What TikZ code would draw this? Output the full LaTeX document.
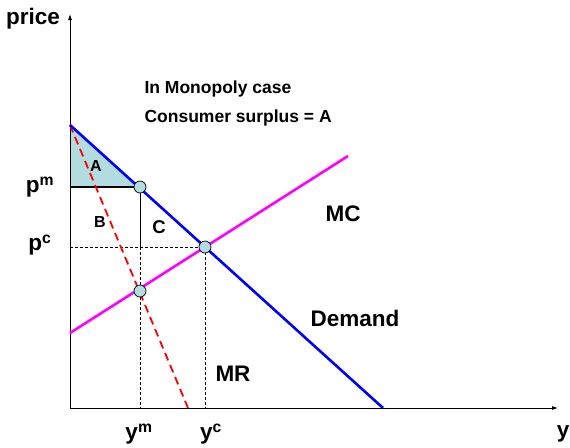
\documentclass[tikz,border=0pt]{standalone}
\usepackage{fontspec}
\setmainfont{Liberation Sans}
\usetikzlibrary{positioning,arrows.meta,calc}

\definecolor{csfill}{HTML}{B2DCDF}
\definecolor{mccol}{HTML}{FF00FF}
\definecolor{dcol}{HTML}{0000FF}

\begin{document}
\begin{tikzpicture}[
  x=1pt, y=-1pt,
  font=\bfseries,
  axis/.style={line width=0.8pt, -{Latex[length=6pt,width=4pt]}},
  curve/.style={line width=2.6pt},
  guide/.style={black, line width=0.7pt, dash pattern=on 3pt off 2pt},
  dot/.style={circle, draw=black, line width=0.7pt, fill=csfill, inner sep=0pt, minimum size=12pt},
  lbl/.style={font=\bfseries\fontsize{22.5}{26}\selectfont},
  txt/.style={font=\bfseries\fontsize{17.5}{20}\selectfont, anchor=west}
]
\path[use as bounding box] (0,0) rectangle (570,447);
% axes
\coordinate (O) at (70,408);
\coordinate (ytop) at (70,14);
\coordinate (xend) at (558,408);
% curve end points
\coordinate (dtop) at (70,125);
\coordinate (dbot) at (383,408);
\coordinate (mcL) at (70,333);
\coordinate (mcR) at (348,156);
\coordinate (mrbot) at (188,408);
\coordinate (pm) at (70,187);
\coordinate (pc) at (70,247);
\coordinate (ym) at (140,408);
\coordinate (yc) at (205,408);
\coordinate (split) at (140,247);

% consumer surplus
\fill[csfill] (dtop) -- (pm) -- (140,187) -- cycle;

\draw[axis] (O) -- (ytop);
\draw[axis] (O) -- (xend);

% guide lines
\draw[line width=1.3pt] (pm) -- (140,187);
\draw[line width=0.8pt] (140,187) -- (split);
\draw[guide] (split) -- (ym);
\draw[guide] (pc) -- (205,247);
\draw[guide] (205,247) -- (yc);

% curves
\draw[curve, mccol] (mcL) -- (mcR);
\draw[red, line width=1.8pt, dash pattern=on 8pt off 5pt] (dtop) -- (mrbot);
\draw[curve, dcol] (dtop) -- (dbot);

\node[dot] (em) at (140,187) {};
\node[dot] (ec) at (205,247) {};
\node[dot] (emr) at (140,291) {};

% labels
\node[lbl] (lprice) at (33,19) {price};
\node[lbl] (lpm) at (40,187) {p\textsuperscript{m}};
\node[lbl] (lpc) at (40,245) {p\textsuperscript{c}};
\node[lbl] (lym) at (139,434) {y\textsuperscript{m}};
\node[lbl] (lyc) at (211,434) {y\textsuperscript{c}};
\node[lbl] (ly) at (563,434) {y};
\node[font=\bfseries\fontsize{16}{18}\selectfont] (la) at (96,166) {A};
\node[font=\bfseries\fontsize{16}{18}\selectfont] (lb) at (100,222) {B};
\node[font=\bfseries\fontsize{18.5}{22}\selectfont] (lc) at (159,227) {C};
\node[lbl] (lmc) at (343,214) {MC};
\node[lbl] (ldem) at (355,318) {Demand};
\node[lbl] (lmr) at (233,374) {MR};
\node[txt] (t1) at (141,89) {In Monopoly case};
\node[txt] (t2) at (141,118) {Consumer surplus = A};
\end{tikzpicture}
\end{document}
